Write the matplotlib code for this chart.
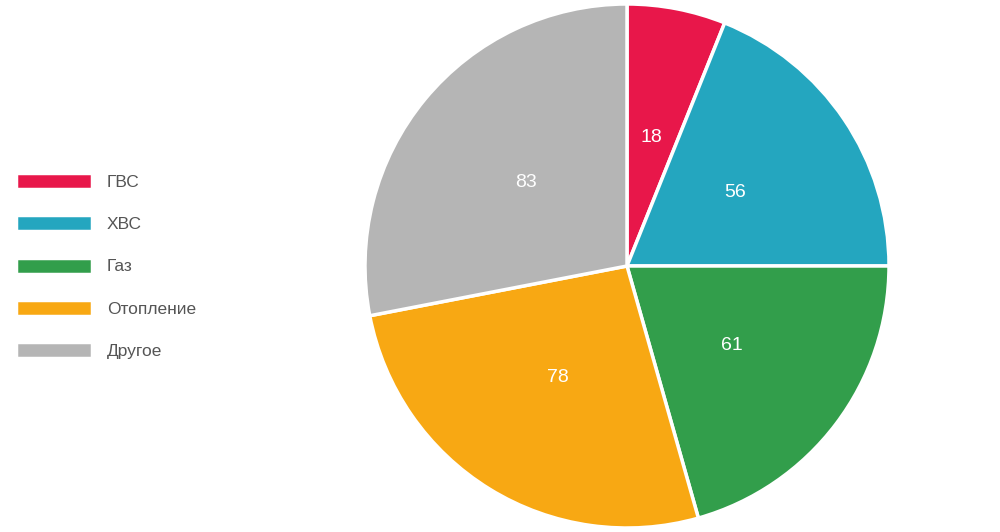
import matplotlib
matplotlib.use("Agg")
import matplotlib.pyplot as plt

plt.rcParams['font.family'] = ['Liberation Sans', 'DejaVu Sans']

labels = ['ГВС', 'ХВС', 'Газ', 'Отопление', 'Другое']
values = [18, 56, 61, 78, 83]
colors = ['#E8174A', '#24A6BF', '#329E4B', '#F8A813', '#B5B5B5']

fig = plt.figure(figsize=(10, 5.32), dpi=100)
ax = fig.add_axes([0.627 - 0.262, 0.5 - 262 / 532, 0.524, 524 / 532])

wedges, texts, autotexts = ax.pie(
    values, colors=colors, startangle=90, counterclock=False,
    autopct=lambda p: f'{round(p * sum(values) / 100):d}', pctdistance=0.5,
    wedgeprops=dict(edgecolor='white', linewidth=2.5),
    textprops=dict(color='white', fontsize=14))
ax.set_xlim(-1, 1)
ax.set_ylim(-1, 1)
ax.set_aspect('equal')

fig.legend(wedges, labels, loc='center left', bbox_to_anchor=(0.0, 0.5),
           frameon=False, fontsize=12.5, handlelength=4.4, handleheight=1.05,
           labelspacing=1.45, handletextpad=0.85, labelcolor='#555555')

fig.savefig('out.png', dpi=100)
